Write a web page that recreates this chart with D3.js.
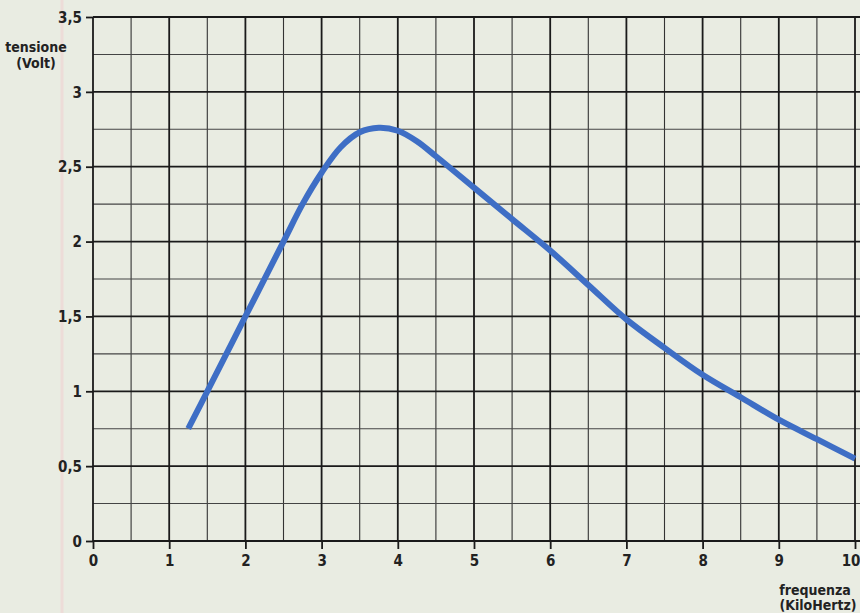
<!DOCTYPE html>
<html>
<head>
<meta charset="utf-8">
<script src="https://cdn.jsdelivr.net/npm/d3@7"></script>
<style>
  body { margin: 0; background: #e9ece2; }
  svg { display: block; }
  .lbl { font-family: "DejaVu Sans Condensed", "DejaVu Sans", sans-serif; font-stretch: condensed; font-weight: bold; fill: #222; }
</style>
</head>
<body>
<svg id="chart" width="860" height="613"></svg>
<script>
// curve (frequenza kHz -> tensione V)
var freq = [1.25, 1.5, 2, 2.5, 2.75, 3, 3.25, 3.5, 3.75, 4, 4.25, 4.5, 5, 5.5, 6, 6.5, 7, 7.5, 8, 8.5, 9, 9.5, 10];
var volt = [0.75, 1.0, 1.5, 2.0, 2.25, 2.46, 2.63, 2.73, 2.76, 2.74, 2.67, 2.57, 2.36, 2.15, 1.94, 1.71, 1.48, 1.29, 1.11, 0.96, 0.81, 0.68, 0.55];

var xTicks = [0, 1, 2, 3, 4, 5, 6, 7, 8, 9, 10];
var xTickLabels = ["0", "1", "2", "3", "4", "5", "6", "7", "8", "9", "10"];
var yTicks = [0, 0.5, 1, 1.5, 2, 2.5, 3, 3.5];
var yTickLabels = ["0", "0,5", "1", "1,5", "2", "2,5", "3", "3,5"];

var svg = d3.select('#chart');
var W = 860, H = 613;

var x = d3.scaleLinear().domain([0, 10]).range([93, 855]);
var y = d3.scaleLinear().domain([0, 3.5]).range([541, 17]);

// faint page edge line of the scan
svg.append("line")
    .attr("x1", 62).attr("x2", 62).attr("y1", 0).attr("y2", H)
    .attr("stroke", "#eddcd8").attr("stroke-width", 3);

var grid = svg.append("g");

// minor grid: half steps
var xMinor = xTicks.slice(0, -1).map(function(d){ return d + 0.5; });
var yMinor = yTicks.slice(0, -1).map(function(d){ return d + 0.25; });

grid.selectAll(".vmin").data(xMinor).enter().append("line")
    .attr("x1", x).attr("x2", x)
    .attr("y1", y(3.5)).attr("y2", y(0))
    .attr("stroke", "#333").attr("stroke-width", 1.1);

grid.selectAll(".hmin").data(yMinor).enter().append("line")
    .attr("x1", x(0)).attr("x2", W)
    .attr("y1", y).attr("y2", y)
    .attr("stroke", "#444").attr("stroke-width", 1.1);

// major grid
grid.selectAll(".vmaj").data(xTicks).enter().append("line")
    .attr("x1", x).attr("x2", x)
    .attr("y1", y(3.5)).attr("y2", y(0))
    .attr("stroke", "#1a1a1a").attr("stroke-width", 1.8);

grid.selectAll(".hmaj").data(yTicks).enter().append("line")
    .attr("x1", x(0)).attr("x2", W)
    .attr("y1", y).attr("y2", y)
    .attr("stroke", "#1a1a1a").attr("stroke-width", 1.8);

// axes (ticks + labels only)
var xAxis = d3.axisBottom(x)
    .tickValues(xTicks)
    .tickSize(8)
    .tickPadding(4)
    .tickFormat(function(d, i){ return xTickLabels[i]; });

var yAxis = d3.axisLeft(y)
    .tickValues(yTicks)
    .tickSize(7)
    .tickPadding(4)
    .tickFormat(function(d, i){ return yTickLabels[i]; });

var gx = svg.append("g")
    .attr("transform", "translate(0," + y(0) + ")")
    .call(xAxis);
var gy = svg.append("g")
    .attr("transform", "translate(" + x(0) + ",0)")
    .call(yAxis);

[gx, gy].forEach(function(g){
    g.select(".domain").remove();
    g.selectAll(".tick line").attr("stroke", "#1a1a1a").attr("stroke-width", 1.8);
    g.selectAll(".tick text")
        .attr("class", "lbl")
        .style("font-size", "15px")
        .attr("fill", "#222");
});
gx.selectAll(".tick text").attr("dy", "0.85em");
gy.selectAll(".tick text").attr("dy", "0.35em");
// keep the last label inside the window
gx.selectAll(".tick text").filter(function(d){ return d === 10; })
    .attr("text-anchor", "end").attr("dx", 5);

// the curve
var line = d3.line()
    .x(function(d){ return x(d[0]); })
    .y(function(d){ return y(d[1]); })
    .curve(d3.curveCatmullRom.alpha(0.5));

svg.append("path")
    .datum(d3.zip(freq, volt))
    .attr("d", line)
    .attr("fill", "none")
    .attr("stroke", "#3e6ec5")
    .attr("stroke-width", 6);

// axis titles
svg.append("text").attr("class", "lbl")
    .attr("x", 36).attr("y", 52)
    .attr("text-anchor", "middle").style("font-size", "14px")
    .text("tensione");
svg.append("text").attr("class", "lbl")
    .attr("x", 36).attr("y", 68)
    .attr("text-anchor", "middle").style("font-size", "14px")
    .text("(Volt)");

svg.append("text").attr("class", "lbl")
    .attr("x", 815).attr("y", 595)
    .attr("text-anchor", "middle").style("font-size", "14px")
    .text("frequenza");
svg.append("text").attr("class", "lbl")
    .attr("x", 818).attr("y", 610)
    .attr("text-anchor", "middle").style("font-size", "14px")
    .text("(KiloHertz)");
</script>
</body>
</html>
